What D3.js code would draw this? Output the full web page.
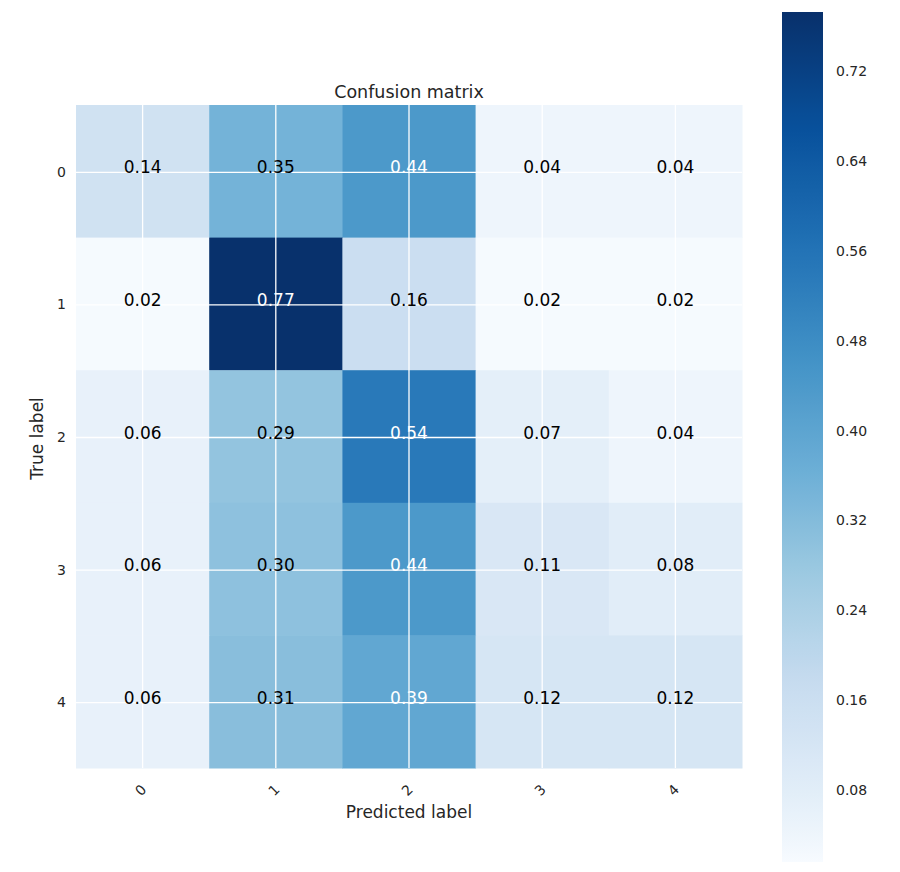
<!DOCTYPE html>
<html><head><meta charset="utf-8">
<script src="https://cdn.jsdelivr.net/npm/d3@7"></script>
<style>body{margin:0;background:#fff;} text{font-family:"DejaVu Sans",sans-serif;}</style>
</head><body><svg id="c" width="900" height="872"></svg>
<script>
const classes = ["0","1","2","3","4"];
const row0 = [0.14, 0.35, 0.44, 0.04, 0.04];
const row1 = [0.02, 0.77, 0.16, 0.02, 0.02];
const row2 = [0.06, 0.29, 0.54, 0.07, 0.04];
const row3 = [0.06, 0.30, 0.44, 0.11, 0.08];
const row4 = [0.06, 0.31, 0.39, 0.12, 0.12];
const matrix = [row0, row1, row2, row3, row4];
const cbTicks = [0.08, 0.16, 0.24, 0.32, 0.40, 0.48, 0.56, 0.64, 0.72];
const vmin = 0.016, vmax = 0.7725;
const bluesStops = ["#f7fbff","#deebf7","#c6dbef","#9ecae1","#6baed6","#4292c6","#2171b5","#08519c","#08306b"];

const svg = d3.select("#c");
const L = 76, W = 666, T = 105, H = 663;
const x = d3.scaleBand().domain(classes).range([L, L+W]);
const y = d3.scaleBand().domain(classes).range([T, T+H]);
const blues = d3.scaleLinear().domain(d3.range(bluesStops.length).map(i=>i/(bluesStops.length-1)))
  .range(bluesStops).interpolate(d3.interpolateRgb).clamp(true);
const norm = d3.scaleLinear().domain([vmin, vmax]).range([0,1]).clamp(true);
const color = v => blues(Math.pow(norm(v), 0.9));
const cells = [];
matrix.forEach((r,i)=>r.forEach((v,j)=>cells.push({i,j,v})));

svg.append("g").selectAll("rect").data(cells).join("rect")
  .attr("x", d=>x(classes[d.j])).attr("y", d=>y(classes[d.i]))
  .attr("width", x.bandwidth()+0.5).attr("height", y.bandwidth()+0.5)
  .attr("fill", d=>color(d.v));

// grid lines
const g = svg.append("g").attr("stroke","#fff").attr("stroke-width",1.3);
classes.forEach(c=>{
  const cx = x(c)+x.bandwidth()/2, cy = y(c)+y.bandwidth()/2+1;
  g.append("line").attr("x1",cx).attr("x2",cx).attr("y1",T).attr("y2",T+H);
  g.append("line").attr("x1",L).attr("x2",L+W).attr("y1",cy).attr("y2",cy);
});

const thresh = vmax/2;
svg.append("g").selectAll("text").data(cells).join("text")
  .attr("x", d=>x(classes[d.j])+x.bandwidth()/2)
  .attr("y", d=>y(classes[d.i])+y.bandwidth()/2+2)
  .attr("text-anchor","middle")
  .attr("font-size",17)
  .attr("fill", d=>d.v>thresh?"#ffffff":"#000000")
  .text(d=>d.v.toFixed(2));

// axes
const xAxis = svg.append("g").attr("transform",`translate(0,${T+H})`)
  .call(d3.axisBottom(x).tickSize(0).tickPadding(0));
xAxis.select(".domain").remove();
xAxis.selectAll("text").attr("font-size",14).attr("fill","#262626")
  .attr("text-anchor","middle").attr("x",0).attr("y",0).attr("dy",null)
  .attr("dominant-baseline","central")
  .attr("transform","translate(-2,22) rotate(-45)");

const yAxis = svg.append("g").attr("transform",`translate(${L},1)`)
  .call(d3.axisLeft(y).tickSize(0).tickPadding(10));
yAxis.select(".domain").remove();
yAxis.selectAll("text").attr("font-size",14).attr("fill","#262626");

svg.append("text").attr("x",L+W/2).attr("y",98).attr("text-anchor","middle")
  .attr("font-size",17.5).attr("fill","#262626").text("Confusion matrix");
svg.append("text").attr("x",L+W/2).attr("y",818).attr("text-anchor","middle")
  .attr("font-size",17).attr("fill","#262626").text("Predicted label");
svg.append("text").attr("transform",`translate(43,${T+H/2+2}) rotate(-90)`).attr("text-anchor","middle")
  .attr("font-size",17).attr("fill","#262626").text("True label");

// colorbar
const cbX = 782, cbW = 41, cbT = 12, cbB = 862;
const cy = d3.scaleLinear().domain([vmin, vmax]).range([cbB, cbT]);
const defs = svg.append("defs");
const grad = defs.append("linearGradient").attr("id","cbg").attr("x1",0).attr("x2",0).attr("y1",1).attr("y2",0);
d3.range(0, 1.0001, 0.02).forEach(t=>grad.append("stop").attr("offset",t)
  .attr("stop-color", color(vmin + t*(vmax-vmin))));
svg.append("rect").attr("x",cbX).attr("y",cbT).attr("width",cbW).attr("height",cbB-cbT).attr("fill","url(#cbg)");
const cbAxis = svg.append("g").attr("transform",`translate(${cbX+cbW},0)`)
  .call(d3.axisRight(cy).tickValues(cbTicks).tickFormat(d3.format(".2f")).tickSize(0).tickPadding(13));
cbAxis.select(".domain").remove();
cbAxis.selectAll("text").attr("font-size",14).attr("fill","#262626");
</script></body></html>
